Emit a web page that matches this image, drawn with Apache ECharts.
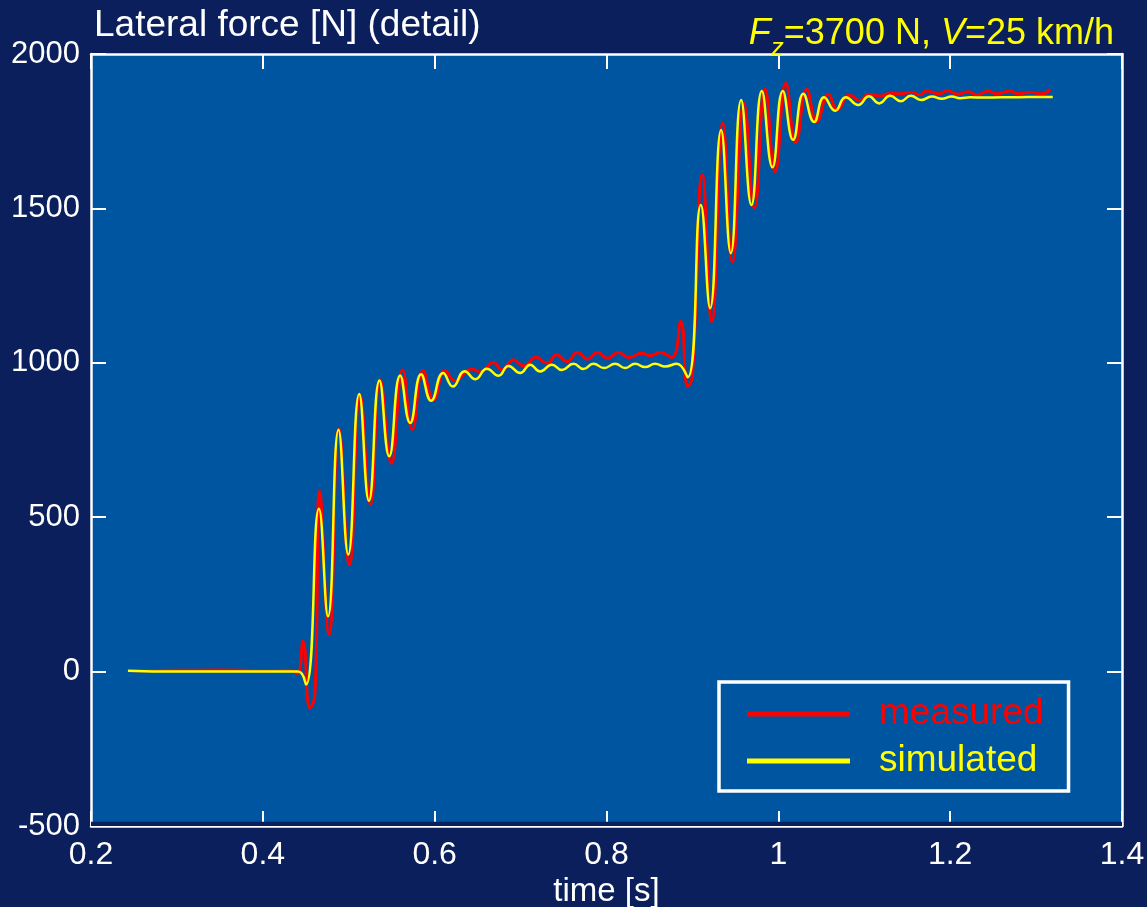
<!DOCTYPE html>
<html>
<head>
<meta charset="utf-8">
<script src="https://cdn.jsdelivr.net/npm/echarts@6/dist/echarts.min.js"></script>
<style>
html,body{margin:0;padding:0;background:#0b1f5c;}
#chart{width:1147px;height:907px;}
</style>
</head>
<body>
<div id="chart"></div>
<script>
// ---- data ----
const xTickLabels = ['0.2', '0.4', '0.6', '0.8', '1', '1.2', '1.4'];
const yTickLabels = ['-500', '0', '500', '1000', '1500', '2000'];

const timeMeasured = [
  0.250, 0.300, 0.350, 0.400, 0.433, 0.4402, 0.4467, 0.4548, 0.4606,
  0.4662, 0.4771, 0.4886, 0.5007, 0.5133, 0.5253, 0.5366, 0.5497, 0.5627,
  0.5740, 0.5865, 0.5987, 0.6122, 0.6235, 0.6433, 0.6530, 0.6685, 0.6783,
  0.6918, 0.7034, 0.7182, 0.7306, 0.7423, 0.7539, 0.7663, 0.7779, 0.7895,
  0.8012, 0.8140, 0.8256, 0.8411, 0.8508, 0.8624, 0.8760, 0.8864, 0.8945,
  0.8999, 0.9116, 0.9225, 0.9353, 0.9465, 0.9601, 0.9721, 0.9846, 0.9962,
  1.0087, 1.0203, 1.0331, 1.0447, 1.0582, 1.0687, 1.0827, 1.0951, 1.1048,
  1.1184, 1.1301, 1.1417, 1.1553, 1.1642, 1.1728, 1.1871, 1.1968, 1.2088,
  1.2212, 1.2310, 1.2445, 1.2542, 1.2697, 1.2794, 1.2930, 1.3066, 1.3162
];
const forceMeasured = [
  3, 4, 5, 3, 4, -6, 98, -118, -74,
  584, 120, 785, 346, 896, 540, 945, 675, 977,
  785, 975, 880, 975, 942, 980, 970, 1001, 977,
  1010, 990, 1018, 999, 1026, 1004, 1033, 1012, 1033,
  1015, 1033, 1017, 1031, 1023, 1033, 1017, 1134, 923,
  956, 1608, 1134, 1776, 1328, 1840, 1501, 1887, 1619,
  1905, 1713, 1886, 1781, 1870, 1819, 1867, 1849, 1870,
  1864, 1873, 1871, 1876, 1868, 1880, 1871, 1881, 1870,
  1878, 1868, 1880, 1871, 1880, 1871, 1876, 1871, 1886
];

const timeSimulated = [
  0.243, 0.300, 0.400, 0.441, 0.4502, 0.4653, 0.4758, 0.4881, 0.4994,
  0.5122, 0.5235, 0.5358, 0.5471, 0.5599, 0.5715, 0.5843, 0.5959, 0.6099,
  0.6212, 0.6350, 0.6472, 0.6608, 0.6743, 0.6859, 0.6995, 0.7111, 0.7227,
  0.7364, 0.7481, 0.7616, 0.7732, 0.7848, 0.7973, 0.8101, 0.8217, 0.8333,
  0.8450, 0.8566, 0.8682, 0.8819, 0.8945, 0.9098, 0.9206, 0.9334, 0.9447,
  0.9567, 0.9687, 0.9808, 0.9931, 1.0052, 1.0172, 1.0292, 1.0416, 1.0533,
  1.0661, 1.0785, 1.0930, 1.1054, 1.1173, 1.1301, 1.1425, 1.1542, 1.1661,
  1.1786, 1.1902, 1.2019, 1.2115, 1.2232, 1.2400, 1.2600, 1.2800, 1.3000,
  1.3194
];
const forceSimulated = [
  3, 0, 0, 0, -42, 527, 179, 783, 379,
  899, 553, 943, 697, 959, 805, 963, 877, 967,
  923, 973, 947, 981, 958, 990, 967, 994, 972,
  994, 977, 997, 980, 997, 983, 997, 983, 997,
  986, 997, 988, 997, 953, 1511, 1177, 1754, 1355,
  1851, 1511, 1880, 1633, 1880, 1722, 1871, 1780, 1860,
  1816, 1860, 1835, 1863, 1840, 1865, 1847, 1865, 1851,
  1862, 1855, 1862, 1857, 1860, 1859, 1860, 1860, 1861,
  1861
];

// ---- chart ----
const FONT = 'Liberation Sans, Arial, sans-serif';
const WHITE = '#ffffff';
const DARK = '#0b1f5c';
const PLOT = '#0055a0';

const chart = echarts.init(document.getElementById('chart'));

const commonAxisLine = { show: true, onZero: false, lineStyle: { color: WHITE, width: 2.5 } };
const commonTick = { show: true, inside: true, length: 15, lineStyle: { color: WHITE, width: 2 } };

const option = {
  backgroundColor: DARK,
  animation: false,
  title: [
    {
      text: 'Lateral force [N] (detail)',
      left: 89, top: 2,
      textStyle: { color: WHITE, fontSize: 37, fontWeight: 'normal', fontFamily: FONT }
    },
    {
      text: '{i|F}{sub|z}{n|=3700 N, }{i|V}{n|=25 km/h}',
      right: 28, top: 1,
      textStyle: {
        fontFamily: FONT, fontWeight: 'normal',
        rich: {
          i: { color: '#ffff00', fontSize: 36, fontStyle: 'italic', fontWeight: 'normal', fontFamily: FONT, lineHeight: 46, verticalAlign: 'bottom' },
          n: { color: '#ffff00', fontSize: 36, fontWeight: 'normal', fontFamily: FONT, lineHeight: 46, verticalAlign: 'bottom' },
          sub: { color: '#ffff00', fontSize: 26, fontStyle: 'italic', fontWeight: 'normal', fontFamily: FONT, lineHeight: 46, verticalAlign: 'bottom', padding: [0, 0, -10, 0] }
        }
      }
    }
  ],
  grid: {
    left: 91, right: 25, top: 54, bottom: 81,
    show: true, backgroundColor: PLOT, borderWidth: 0,
    containLabel: false, outerBoundsMode: 'none'
  },
  legend: {
    orient: 'vertical',
    left: 719, top: 682,
    padding: [11, 25, 9, 28],
    borderColor: WHITE, borderWidth: 3.5,
    backgroundColor: 'transparent',
    icon: 'rect',
    itemWidth: 103, itemHeight: 5,
    itemGap: 5,
    textStyle: { fontSize: 37, lineHeight: 42, fontFamily: FONT, padding: [0, 0, 0, 24] },
    data: [
      { name: 'measured', textStyle: { color: '#ff0000' } },
      { name: 'simulated', textStyle: { color: '#ffff00' } }
    ]
  },
  xAxis: [
    {
      type: 'value', min: 0.2, max: 1.4, interval: 0.2, position: 'bottom',
      name: 'time [s]', nameLocation: 'middle', nameGap: 46,
      nameTextStyle: { color: WHITE, fontSize: 33, fontFamily: FONT },
      axisLine: commonAxisLine, axisTick: commonTick, splitLine: { show: false },
      axisLabel: {
        color: WHITE, fontSize: 32, fontFamily: FONT, margin: 13,
        formatter: v => xTickLabels[Math.round((v - 0.2) / 0.2)]
      }
    },
    {
      type: 'value', min: 0.2, max: 1.4, interval: 0.2, position: 'top',
      axisLine: commonAxisLine, axisTick: commonTick, splitLine: { show: false },
      axisLabel: { show: false }
    }
  ],
  yAxis: [
    {
      type: 'value', min: -500, max: 2000, interval: 500, position: 'left',
      axisLine: commonAxisLine, axisTick: commonTick, splitLine: { show: false },
      axisLabel: {
        color: WHITE, fontSize: 31, fontFamily: FONT, margin: 11,
        padding: [4, 0, 0, 0],
        formatter: v => yTickLabels[Math.round((v + 500) / 500)]
      }
    },
    {
      type: 'value', min: -500, max: 2000, interval: 500, position: 'right',
      axisLine: commonAxisLine, axisTick: commonTick, splitLine: { show: false },
      axisLabel: { show: false }
    }
  ],
  series: [
    {
      name: 'measured', type: 'line', xAxisIndex: 0, yAxisIndex: 0,
      data: timeMeasured.map((t, i) => [t, forceMeasured[i]]),
      smooth: 0.5, showSymbol: false, symbol: 'none',
      lineStyle: { color: '#ff0000', width: 3 }, itemStyle: { color: '#ff0000' },
      z: 2,
      markArea: {
        silent: true,
        itemStyle: { color: DARK },
        data: [[{ yAxis: -500 }, { yAxis: -486 }]]
      }
    },
    {
      name: 'simulated', type: 'line', xAxisIndex: 0, yAxisIndex: 0,
      data: timeSimulated.map((t, i) => [t, forceSimulated[i]]),
      smooth: 0.5, showSymbol: false, symbol: 'none',
      lineStyle: { color: '#ffff00', width: 2.5 }, itemStyle: { color: '#ffff00' },
      z: 3
    }
  ]
};
chart.setOption(option);
</script>
</body>
</html>
